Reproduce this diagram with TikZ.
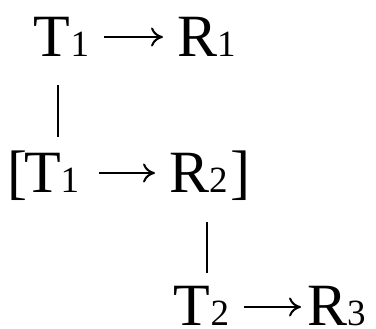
\documentclass[tikz,border=0pt]{standalone}
\usepackage{fontspec}
\setmainfont{Liberation Serif}
\usetikzlibrary{arrows.meta}
\newcommand\subdig[1]{{\fontsize{37}{37}\selectfont #1}}
\begin{document}
\begin{tikzpicture}[x=1pt,y=1pt,
  txt/.style={inner sep=0pt,outer sep=0pt,anchor=base west,font=\fontsize{60}{60}\selectfont},
  textarrow/.style={line width=2pt,-{To[length=12pt,width=19pt]}},
  conn/.style={line width=2pt}]
\useasboundingbox (0,0) rectangle (376,329);
% line 1
\node[txt] (t1) at (34,272) {T\subdig{1}};
\node[txt] (r1) at (177,272) {R\subdig{1}};
\coordinate (a1s) at (104,292);
\coordinate (a1e) at (163,292);
% line 2
\node[txt] (lb) at (8,136) {[};
\node[txt] (t12) at (24,136) {T\subdig{1}};
\node[txt] (r2) at (169,136) {R\subdig{2}};
\node[txt] (rb) at (230,136) {]};
\coordinate (a2s) at (99,156);
\coordinate (a2e) at (155,156);
% line 3
\node[txt] (t2) at (174,3) {T\subdig{2}};
\node[txt] (r3) at (307,3) {R\subdig{3}};
\coordinate (a3s) at (244,22);
\coordinate (a3e) at (301,22);
% arrows
\draw[textarrow] (a1s) -- (a1e);
\draw[textarrow] (a2s) -- (a2e);
\draw[textarrow] (a3s) -- (a3e);
% connectors
\coordinate (v1a) at (58,244);
\coordinate (v1b) at (58,192);
\coordinate (v2a) at (207,107);
\coordinate (v2b) at (207,56);
\draw[conn] (v1a) -- (v1b);
\draw[conn] (v2a) -- (v2b);
\end{tikzpicture}
\end{document}
